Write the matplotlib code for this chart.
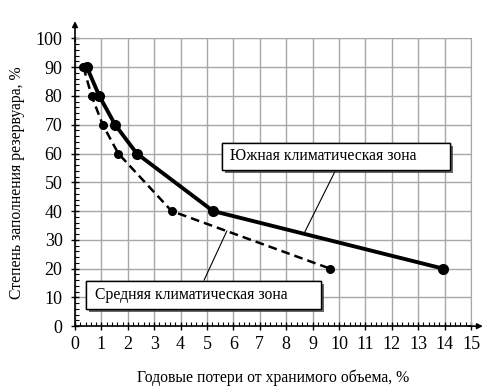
import numpy as np
import matplotlib
matplotlib.use("Agg")
import matplotlib.pyplot as plt
from matplotlib import patheffects
from matplotlib.patches import Rectangle
from matplotlib.ticker import MultipleLocator

# data
south_x = [0.45, 0.92, 1.52, 2.34, 5.23, 13.94]
south_y = [90, 80, 70, 60, 40, 20]
middle_x = [0.32, 0.63, 1.05, 1.64, 3.66, 9.66]
middle_y = [90, 80, 70, 60, 40, 20]

south_label = "Южная климатическая зона"
middle_label = "Средняя климатическая зона"
x_label = "Годовые потери от хранимого объема, %"
y_label = "Степень заполнения резервуара, %"

plt.rcParams['font.family'] = ['Liberation Serif', 'DejaVu Serif']

fig = plt.figure(figsize=(5.0, 3.92), dpi=100)
ax = fig.add_axes([0.15, 0.168, 0.792, 0.734])

ax.set_xlim(0, 15)
ax.set_ylim(0, 100)
ax.xaxis.set_major_locator(MultipleLocator(1))
ax.xaxis.set_minor_locator(MultipleLocator(0.2))
ax.yaxis.set_major_locator(MultipleLocator(10))
ax.yaxis.set_minor_locator(MultipleLocator(2))
ax.grid(True, which="major", color="#a8a8a8", linewidth=1)
ax.set_axisbelow(True)
ax.tick_params(which="major", direction="inout", length=6, width=1,
               labelsize=13, pad=4)
ax.tick_params(axis="y", which="major", pad=6)
ax.tick_params(which="minor", direction="in", length=3, width=0.8)
for lbl in ax.get_xticklabels() + ax.get_yticklabels():
    lbl.set_fontfamily("Liberation Serif")
for s in ["top", "right"]:
    ax.spines[s].set_color("#a8a8a8")
for s in ["left", "bottom"]:
    ax.spines[s].set_linewidth(1.2)

# axis arrows
ax.annotate("", xy=(0, 106), xytext=(0, 99), annotation_clip=False,
            arrowprops=dict(arrowstyle="-|>", color="black", lw=1.2,
                            mutation_scale=8, shrinkA=0, shrinkB=0))
ax.annotate("", xy=(15.45, 0), xytext=(14.9, 0), annotation_clip=False,
            arrowprops=dict(arrowstyle="-|>", color="black", lw=1.2,
                            mutation_scale=8, shrinkA=0, shrinkB=0))

# curves
ax.plot(south_x, south_y, color="black", linewidth=2.8, marker="o",
        markersize=7, zorder=4)
ax.plot(middle_x, middle_y, color="black", linewidth=1.8, linestyle="--",
        dashes=(3.5, 2), marker="o", markersize=5.5, zorder=4)

# leader lines
sx = 8.67
ax.plot([9.85, sx], [53.8, np.interp(sx, south_x, south_y)],
        color="black", linewidth=0.8, zorder=3)
mx = 5.75
ax.plot([4.89, mx], [16.0, np.interp(mx, middle_x, middle_y)],
        color="black", linewidth=0.8, zorder=3)

# label boxes with shadow
shadow = [patheffects.withSimplePatchShadow(offset=(2, -2), alpha=0.8,
                                            shadow_rgbFace="#404040"),
          patheffects.Normal()]
for (x0, y0, w, h) in [(5.57, 54.2, 8.63, 9.3), (0.42, 6.0, 8.9, 9.7)]:
    r = Rectangle((x0, y0), w, h, facecolor="white", edgecolor="black",
                  linewidth=1, zorder=5)
    r.set_path_effects(shadow)
    ax.add_patch(r)
ax.text(5.87, 59.0, south_label, fontsize=11.3, ha="left", va="center",
        zorder=6)
ax.text(0.76, 10.9, middle_label, fontsize=11.3, ha="left", va="center",
        zorder=6)

ax.set_xlabel(x_label, fontsize=11.3, labelpad=12)
ax.set_ylabel(y_label, fontsize=11.3, labelpad=8)

fig.savefig("out.png", dpi=100)
